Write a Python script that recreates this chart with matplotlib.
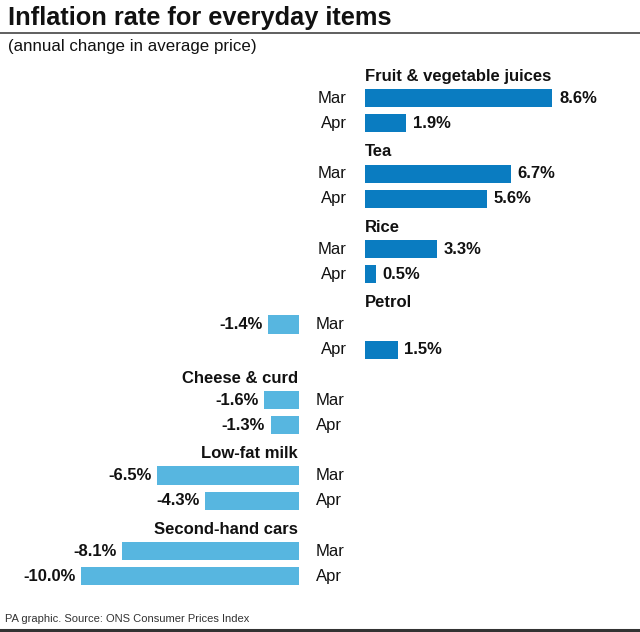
import matplotlib
matplotlib.use("Agg")
import matplotlib.pyplot as plt
from matplotlib.lines import Line2D

plt.rcParams['font.family'] = ['Liberation Sans', 'DejaVu Sans']

items = ['Fruit & vegetable juices', 'Tea', 'Rice', 'Petrol',
         'Cheese & curd', 'Low-fat milk', 'Second-hand cars']
months = ['Mar', 'Apr']
mar = [8.6, 6.7, 3.3, -1.4, -1.6, -6.5, -8.1]
apr = [1.9, 5.6, 0.5, 1.5, -1.3, -4.3, -10.0]

pos_color = '#0a7cc1'
neg_color = '#57b6e0'

fig = plt.figure(figsize=(6.4, 6.32), dpi=100)

# two panels share the rows: negatives on the left, positives on the right
ax_neg = fig.add_axes([48 / 640, 0.0405, 251 / 640, 0.876])
ax_pos = fig.add_axes([365 / 640, 0.0405, 261.6 / 640, 0.876])
ax_neg.set_xlim(-11.5, 0)
ax_pos.set_xlim(0, 12)
for ax in (ax_neg, ax_pos):
    ax.set_ylim(21.2, -0.8)
    ax.axis('off')

for i, name in enumerate(items):
    vals = [mar[i], apr[i]]
    for j, v in enumerate(vals):
        y = 3 * i + 1 + j
        if v >= 0:
            ax = ax_pos
            ax.barh(y, v, height=0.72, color=pos_color)
            ax.text(v + 0.3, y, f'{v:.1f}%', ha='left', va='center',
                    fontsize=12, fontweight='bold', color='#111111')
            ax.text(-0.85, y, months[j], ha='right', va='center',
                    fontsize=12, color='#111111', clip_on=False)
        else:
            ax = ax_neg
            ax.barh(y, v, height=0.72, color=neg_color)
            ax.text(v - 0.25, y, f'{v:.1f}%', ha='right', va='center',
                    fontsize=12, fontweight='bold', color='#111111')
            ax.text(0.78, y, months[j], ha='left', va='center',
                    fontsize=12, color='#111111', clip_on=False)
    if max(vals) > 0:
        ax_pos.text(0, 3 * i + 0.13, name, ha='left', va='center',
                    fontsize=12, fontweight='bold', color='#111111')
    else:
        ax_neg.text(-0.05, 3 * i + 0.13, name, ha='right', va='center',
                    fontsize=12, fontweight='bold', color='#111111')

fig.text(8 / 640, 1 - 18 / 632, 'Inflation rate for everyday items',
         ha='left', va='center', fontsize=18.3, fontweight='bold', color='#111111')
fig.text(8 / 640, 1 - 47 / 632, '(annual change in average price)',
         ha='left', va='center', fontsize=12.2, color='#111111')
fig.text(5 / 640, 1 - 619 / 632, 'PA graphic. Source: ONS Consumer Prices Index',
         ha='left', va='center', fontsize=8, color='#333333')

fig.add_artist(Line2D([0, 1], [1 - 32.5 / 632] * 2, color='#444444', lw=1.2,
                      transform=fig.transFigure))
fig.add_artist(Line2D([0, 1], [1 - 630 / 632] * 2, color='#333333', lw=2.2,
                      transform=fig.transFigure))

fig.savefig('out.png', dpi=100, facecolor='white')
